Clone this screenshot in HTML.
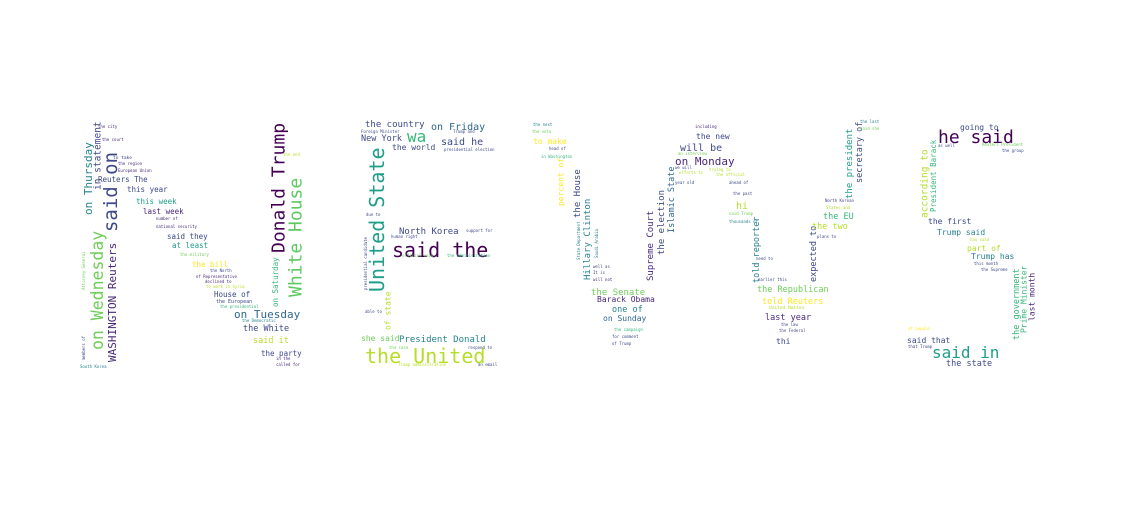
<!DOCTYPE html>
<html><head><meta charset="utf-8"><style>
html,body{margin:0;padding:0;background:#fff;}
svg{display:block;}
text{font-family:"DejaVu Sans Mono","Liberation Mono",monospace;}
</style></head><body>
<svg id="cloud" width="1130" height="512" viewBox="0 0 1130 512" xmlns="http://www.w3.org/2000/svg"></svg>
<script>
// word, x, y(baseline / bottom for vertical), font size, colour, vertical
const words = [
["Donald Trump",270,253,18,"#440154",1],["White House",287,297,18,"#5ec962",1],
["said on",102,232,19,"#3e4989",1],["on Wednesday",90,350,16.5,"#6ece58",1],
["on Thursday",83,215,11,"#26828e",1],["in statement",93,190,9.5,"#3e4989",1],
["WASHINGTON Reuters",107,362,11,"#482878",1],["Reuters The",98,182,7.5,"#3e4989",0],
["this year",127,192,7.5,"#3e4989",0],["this week",136,204,7.5,"#1f9e89",0],
["last week",143,214,7.5,"#482878",0],["said they",167,239,7.5,"#3e4989",0],
["at least",172,248,7.5,"#1f9e89",0],["the bill",192,267,7.5,"#fde725",0],
["House of",214,297,7.5,"#3e4989",0],["on Tuesday",234,318,11,"#31688e",0],
["the White",243,331,8.5,"#3e4989",0],["said it",253,343,8.5,"#b5de2b",0],
["the party",261,356,7.5,"#3e4989",0],["on Saturday",272,307,7.5,"#35b779",1],
["to take",113,159,4.5,"#3e4989",0],["the region",118,165,4,"#482878",0],
["European Union",118,172,4,"#482878",0],["the city",98,128,4,"#482878",0],
["the court",102,141,4,"#482878",0],["number of",156,220,4,"#482878",0],
["national security",156,228,4,"#482878",0],["the military",180,256,4,"#6ece58",0],
["the North",210,272,4,"#3e4989",0],["of Representative",196,278,4,"#482878",0],
["declined to",205,283,4,"#482878",0],["to work in Syria",206,288,4,"#b5de2b",0],
["the European",216,303,5,"#3e4989",0],["the presidential",220,308,4,"#35b779",0],
["the Democratic",242,322,4,"#26828e",0],["in the",276,360,4,"#482878",0],
["called for",276,366,4,"#482878",0],["Attorney General",82,290,4,"#6ece58",1],
["members of",82,360,4,"#3e4989",1],["South Korea",80,368,4,"#26828e",0],
["the end",283,156,4,"#b5de2b",0],
["United State",368,292,20,"#1f9e89",1],["said the",392,257,20,"#440154",0],
["the United",365,363,20,"#b5de2b",0],["wa",407,142,16,"#35b779",0],
["the country",365,127,9,"#3e4989",0],["on Friday",431,130,10,"#31688e",0],
["New York",361,141,8.5,"#3e4989",0],["said he",441,145,10,"#3e4989",0],
["the world",392,150,8,"#3e4989",0],["North Korea",399,234,9,"#3e4989",0],
["President Donald",399,342,9,"#26828e",0],["she said",361,341,8,"#6ece58",0],
["of state",384,330,8,"#b5de2b",1],["Foreign Minister",361,133,4,"#3e4989",0],
["presidential election",444,151,4,"#3e4989",0],["Trump and",453,133,4,"#3e4989",0],
["support for",466,232,4,"#3e4989",0],["human right",391,238,4,"#3e4989",0],
["the administration",447,257,4,"#35b779",0],["official said",402,257,4,"#6ece58",0],
["presidential candidate",364,290,4,"#3e4989",1],["the case",389,349,4,"#6ece58",0],
["Trump administration",398,366,4,"#b5de2b",0],["respond to",468,349,4,"#3e4989",0],
["an email",478,366,4,"#3e4989",0],["able to",365,313,4,"#3e4989",0],["due to",366,216,4,"#3e4989",0],
["on Monday",675,165,11,"#482878",0],["will be",680,151,10,"#3e4989",0],
["the new",696,139,8,"#3e4989",0],["to make",533,144,8,"#fde725",0],
["percent of",557,206,8,"#fde725",1],["the House",573,218,9,"#3e4989",1],
["Hillary Clinton",583,280,9,"#26828e",1],["Supreme Court",646,281,9,"#482878",1],
["the election",657,255,9,"#3e4989",1],["Islamic State",667,233,8.5,"#31688e",1],
["the Senate",591,295,9,"#6ece58",0],["Barack Obama",597,302,8,"#482878",0],
["one of",612,312,8.5,"#26828e",0],["on Sunday",603,321,8,"#31688e",0],
["hi",736,209,10,"#b5de2b",0],["told reporter",752,283,8.5,"#26828e",1],
["expected to",809,282,8.5,"#3e4989",1],["the Republican",757,292,8.5,"#6ece58",0],
["told Reuters",762,304,8.5,"#fde725",0],["last year",765,320,8.5,"#482878",0],
["thi",776,344,8,"#3e4989",0],["the EU",823,219,8.5,"#35b779",0],
["the two",812,229,8.5,"#b5de2b",0],["the president",845,199,9,"#1f9e89",1],
["secretary of",855,183,8.5,"#3e4989",1],["including",695,128,4,"#482878",0],
["the next",533,126,4,"#26828e",0],["the vote",532,133,4,"#6ece58",0],
["head of",549,150,4,"#3e4989",0],["in Washington",541,158,4,"#35b779",0],
["an interview",678,155,4,"#6ece58",0],["we will",675,169,4,"#3e4989",0],
["efforts to",679,174,4,"#b5de2b",0],["trying to",709,171,4,"#b5de2b",0],
["the official",716,176,4,"#b5de2b",0],["year old",675,184,4,"#3e4989",0],
["ahead of",729,184,4,"#3e4989",0],["the past",733,195,4,"#3e4989",0],
["said Trump",729,215,4,"#6ece58",0],["thousands of",729,223,4,"#26828e",0],
["North Korean",825,202,4,"#3e4989",0],["States and",826,209,4,"#b5de2b",0],
["plans to",817,238,4,"#3e4989",0],["need to",756,260,4,"#3e4989",0],
["earlier this",758,281,4,"#3e4989",0],["United Nation",769,309,4.5,"#b5de2b",0],
["the law",781,326,4,"#3e4989",0],["the Federal",779,332,4,"#3e4989",0],
["the campaign",614,331,4,"#35b779",0],["for comment",612,338,4,"#3e4989",0],
["of Trump",612,345,4,"#3e4989",0],["well as",593,268,4,"#3e4989",0],
["It is",593,274,4,"#3e4989",0],["will not",593,281,4,"#482878",0],
["the last",860,123,4,"#26828e",0],["said she",860,130,4,"#6ece58",0],
["State Department",577,260,4,"#26828e",1],["Saudi Arabia",595,258,4,"#26828e",1],
["he said",938,143,18,"#440154",0],["going to",960,130,8,"#3e4989",0],
["according to",920,218,9.5,"#b5de2b",1],["President Barack",930,212,7.5,"#35b779",1],
["the first",928,224,8,"#3e4989",0],["Trump said",937,235,8,"#26828e",0],
["part of",967,251,8,"#b5de2b",0],["Trump has",971,259,8,"#26828e",0],
["the government",1012,340,8.5,"#35b779",1],["Prime Minister",1020,333,8,"#35b779",1],
["last month",1028,321,8,"#482878",1],["said that",907,343,8,"#3e4989",0],
["said in",932,358,16,"#1f9e89",0],["the state",946,366,8.5,"#3e4989",0],
["as well",938,147,4,"#3e4989",0],["Reuters President",982,146,4,"#6ece58",0],
["the group",1002,152,4,"#3e4989",0],["has said",970,241,4,"#b5de2b",0],
["this month",974,265,4,"#3e4989",0],["the Supreme",981,271,4,"#3e4989",0],
["of people",908,330,4,"#fde725",0],["that Trump",908,348,4,"#3e4989",0]
];
const svg = document.getElementById('cloud');
const NS = 'http://www.w3.org/2000/svg';
words.forEach(function(w){
  const t = document.createElementNS(NS,'text');
  
  
  t.setAttribute('font-size', w[3]);
  t.setAttribute('fill', w[4]);
  if (w[5]) {
    const cx = w[1] + w[3]*0.8, cy = w[2];
    t.setAttribute('x', cx); t.setAttribute('y', cy);
    t.setAttribute('transform', 'rotate(-90 ' + cx + ' ' + cy + ')');
  } else {
    t.setAttribute('x', w[1]); t.setAttribute('y', w[2]);
  }
  t.textContent = w[0];
  svg.appendChild(t);
});
</script>
</body></html>
